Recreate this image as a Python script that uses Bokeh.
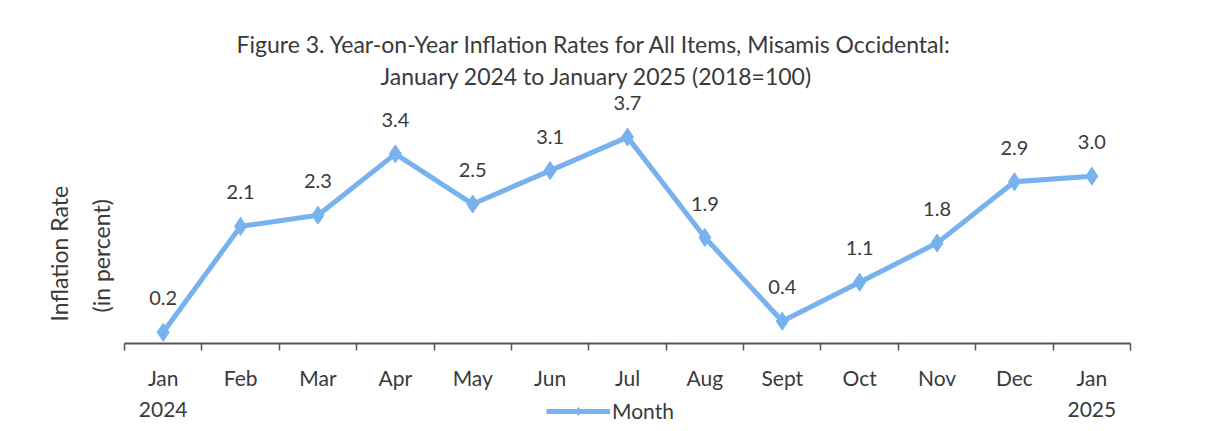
from bokeh.plotting import figure
from bokeh.layouts import column
from bokeh.models import ColumnDataSource, FixedTicker, Legend, LegendItem, Range1d, Title
from bokeh.core.properties import value
from bokeh.embed import file_html
from bokeh.resources import INLINE

months = ["Jan", "Feb", "Mar", "Apr", "May", "Jun", "Jul", "Aug", "Sept", "Oct", "Nov", "Dec", "Jan"]
years = {0: "2024", 12: "2025"}
rates = [0.2, 2.1, 2.3, 3.4, 2.5, 3.1, 3.7, 1.9, 0.4, 1.1, 1.8, 2.9, 3.0]
title_lines = ["Figure 3. Year-on-Year Inflation Rates for All Items, Misamis Occidental:",
               "January 2024 to January 2025 (2018=100)"]
y_label_lines = ["Inflation Rate", "(in percent)"]
series_name = "Month"

FONT = "Lato"
TXT = "#3a3a3a"
BLUE = "#78b2ee"

idx = list(range(len(months)))
src = ColumnDataSource(dict(x=idx, y=rates, lbl=[f"{v:.1f}" for v in rates]))
xr = Range1d(-0.5, len(months) - 0.5)

p = figure(width=1200, height=392, output_backend="svg", toolbar_location=None,
           x_range=xr, y_range=Range1d(0, 4.5),
           min_border_left=124, min_border_right=70, min_border_top=92, min_border_bottom=48)
p.outline_line_color = None
p.grid.grid_line_color = None
p.border_fill_color = "white"

line = p.line("x", "y", source=src, line_color=BLUE, line_width=5)
marks = p.scatter("x", "y", source=src, marker="diamond", size=18, fill_color=BLUE, line_color=BLUE)
p.text("x", "y", text="lbl", source=src, y_offset=-34, text_align="center", text_baseline="middle",
       text_font=value(FONT), text_font_size="20px", text_color=TXT)

p.yaxis.visible = False
xa = p.xaxis[0]
xa.ticker = FixedTicker(ticks=idx, minor_ticks=[i - 0.5 for i in range(len(months) + 1)])
xa.major_label_overrides = {i: m for i, m in enumerate(months)}
xa.major_tick_line_color = None
xa.minor_tick_in = 0
xa.minor_tick_out = 7
xa.minor_tick_line_color = "#555555"
xa.minor_tick_line_width = 1.5
xa.axis_line_color = "#555555"
xa.axis_line_width = 2
xa.major_label_text_font = FONT
xa.major_label_text_font_size = "21px"
xa.major_label_text_color = TXT
xa.major_label_standoff = 14

# title lines (second line nearest the frame)
p.add_layout(Title(text=title_lines[1], align="left", offset=256, standoff=5, text_font=FONT,
                   text_font_size="23px", text_font_style="normal", text_color=TXT), "above")
p.add_layout(Title(text=title_lines[0], align="left", offset=112, standoff=0, text_font=FONT,
                   text_font_size="23px", text_font_style="normal", text_color=TXT), "above")
# y label lines ("(in percent)" nearest the frame)
p.add_layout(Title(text=y_label_lines[1], align="left", offset=31, standoff=20, text_font=FONT,
                   text_font_size="23px", text_font_style="normal", text_color=TXT), "left")
p.add_layout(Title(text=y_label_lines[0], align="left", offset=22, standoff=3, text_font=FONT,
                   text_font_size="23px", text_font_style="normal", text_color=TXT), "left")

# bottom strip: year labels under the first/last month and the legend
p2 = figure(width=1200, height=33, output_backend="svg", toolbar_location=None,
            x_range=xr, y_range=Range1d(0, 1), x_axis_type=None, y_axis_type=None,
            min_border_left=124, min_border_right=70, min_border_top=0, min_border_bottom=0)
p2.outline_line_color = None
p2.grid.grid_line_color = None
p2.extra_y_ranges = {"hidden": Range1d(100, 101)}
ysrc = ColumnDataSource(dict(x=list(years.keys()), y=[0.5] * len(years), t=list(years.values())))
p2.text("x", "y", text="t", source=ysrc, text_align="center", text_baseline="middle",
        text_font=value(FONT), text_font_size="21px", text_color=TXT)
# legend proxies drawn in an off-screen range (only their legend swatch shows)
l2 = p2.line("x", "y", source=src, y_range_name="hidden", line_color=BLUE, line_width=5)
m2 = p2.scatter("x", "y", source=src, y_range_name="hidden", marker="diamond", size=18,
                fill_color=BLUE, line_color=BLUE)
legend = Legend(items=[LegendItem(label=series_name, renderers=[l2, m2])],
                location=(422, 2), glyph_width=64, glyph_height=20, label_text_font=FONT,
                label_text_font_size="21px", label_text_color=TXT, border_line_color=None,
                background_fill_alpha=0, padding=2, margin=0, label_standoff=2)
p2.add_layout(legend)

layout = column(p, p2, spacing=0)
open("out.html", "w").write(file_html(layout, INLINE))
